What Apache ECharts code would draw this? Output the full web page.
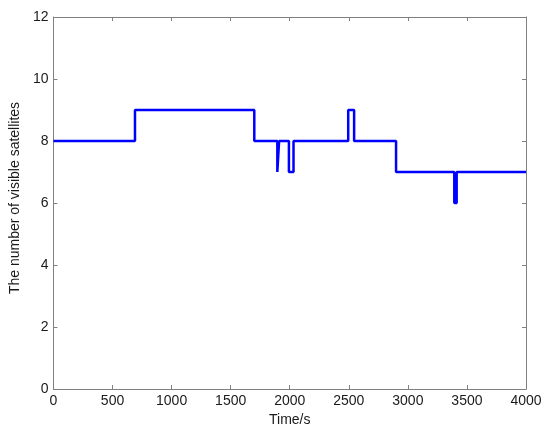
<!DOCTYPE html>
<html><head><meta charset="utf-8">
<script src="https://cdn.jsdelivr.net/npm/echarts@6/dist/echarts.min.js"></script>
<style>html,body{margin:0;padding:0;background:#fff}#c{width:550px;height:433px}</style>
</head><body><div id="c"></div>
<script>
const times  = [0, 690, 1700, 1895, 1910, 1993, 2032, 2495, 2545, 2900, 3393, 3413, 4000];
const values = [8, 9, 8, 7, 8, 7, 8, 9, 8, 7, 6, 7, 7];
const xTicks = {min: 0, max: 4000, interval: 500};
const yTicks = {min: 0, max: 12, interval: 2};

const data = times.map((t, i) => [t, values[i]]);
const axisCol = '#808080';
const font = {fontFamily: 'Liberation Sans, Arial, sans-serif', fontSize: 14, color: '#1a1a1a'};
const chart = echarts.init(document.getElementById('c'));
const baseX = {type: 'value', min: xTicks.min, max: xTicks.max, interval: xTicks.interval,
  axisLine: {show: true, onZero: false, lineStyle: {color: axisCol, width: 1}},
  axisTick: {show: true, inside: true, length: 4, lineStyle: {color: axisCol}},
  splitLine: {show: false}};
const baseY = {type: 'value', min: yTicks.min, max: yTicks.max, interval: yTicks.interval,
  axisLine: {show: true, onZero: false, lineStyle: {color: axisCol, width: 1}},
  axisTick: {show: true, inside: true, length: 4, lineStyle: {color: axisCol}},
  splitLine: {show: false}};
chart.setOption({
  animation: false,
  grid: {left: 52, right: 24, top: 17, bottom: 44},
  xAxis: [
    Object.assign({}, baseX, {position: 'bottom', name: 'Time/s', nameLocation: 'middle', nameGap: 23,
      nameTextStyle: Object.assign({}, font),
      axisLabel: Object.assign({}, font, {margin: 5, formatter: v => String(v)})}),
    Object.assign({}, baseX, {position: 'top', axisLabel: {show: false}})
  ],
  yAxis: [
    Object.assign({}, baseY, {position: 'left', name: 'The number of visible satellites', nameLocation: 'middle', nameGap: 24,
      nameTextStyle: Object.assign({}, font, {padding: [0, 0, 0, 10]}),
      axisLabel: Object.assign({}, font, {margin: 5, formatter: v => String(v)})}),
    Object.assign({}, baseY, {position: 'right', axisLabel: {show: false}})
  ],
  series: [{
    type: 'line', step: 'end', data: data, xAxisIndex: 0, yAxisIndex: 0,
    showSymbol: false, symbol: 'none',
    lineStyle: {color: '#0000ff', width: 2.5}
  }]
});
</script></body></html>
